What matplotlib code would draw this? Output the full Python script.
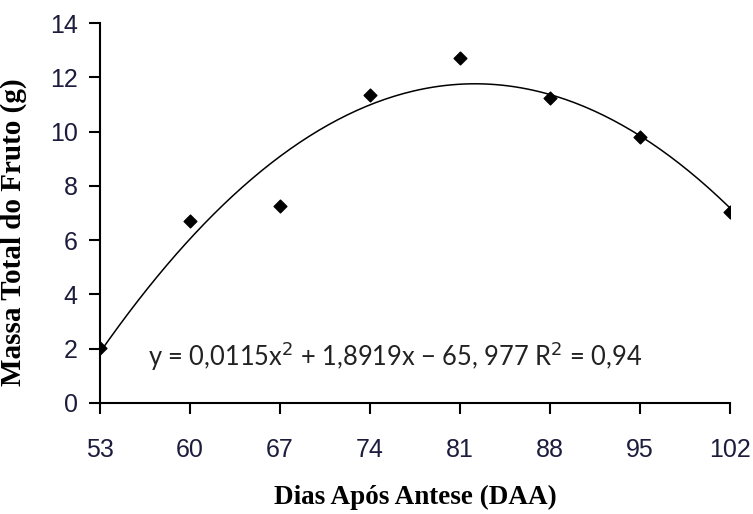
import numpy as np
import matplotlib
matplotlib.use('Agg')
import matplotlib.pyplot as plt

# Dias após antese (DAA) e massa total do fruto (g)
dias = [53, 60, 67, 74, 81, 88, 95, 102]
massa = [2.03, 6.71, 7.26, 11.35, 12.71, 11.24, 9.80, 7.04]
yticks = [0, 2, 4, 6, 8, 10, 12, 14]

equacao = 'y = 0,0115x$^2$ + 1,8919x \u2212 65, 977 R$^2$ = 0,94'

# ajuste polinomial de 2o grau (linha de tendência)
coef = np.polyfit(dias, massa, 2)
xs = np.linspace(dias[0], dias[-1], 200)
ys = np.polyval(coef, xs)

fig = plt.figure(figsize=(7.53, 5.14), dpi=100)
ax = fig.add_axes([0.1328, 0.216, 0.9695 - 0.1328, 0.955 - 0.216])

ax.plot(xs, ys, color='black', linewidth=1.1)
ax.scatter(dias, massa, marker='D', s=42, color='black', zorder=3)

ax.set_xlim(dias[0], dias[-1])
ax.set_ylim(0, 14)
ax.set_xticks(dias)
ax.set_yticks(yticks)

for lado in ['top', 'right']:
    ax.spines[lado].set_visible(False)
for lado in ['left', 'bottom']:
    ax.spines[lado].set_linewidth(1.5)
    ax.spines[lado].set_clip_on(False)

cor_ticks = '#1c1c3c'
ax.tick_params(axis='x', direction='out', length=8, width=1.5, pad=17,
               labelsize=18, labelcolor=cor_ticks)
ax.tick_params(axis='y', direction='out', length=8, width=1.5, pad=8,
               labelsize=18, labelcolor=cor_ticks)
for lbl in ax.get_xticklabels() + ax.get_yticklabels():
    lbl.set_fontfamily('Liberation Sans')

ax.set_xlabel('Dias Após Antese (DAA)', fontfamily='Liberation Serif',
              fontweight='bold', fontsize=19.5, labelpad=17)
ax.set_ylabel('Massa Total do Fruto (g)', fontfamily='Liberation Serif',
              fontweight='bold', fontsize=21)
ax.yaxis.set_label_coords(-0.116, 0.45)

ax.text(56.7, 1.73, equacao, fontfamily='Lato', fontsize=18.4,
        va='center', ha='left', color='#222222')

plt.savefig('out.png', dpi=100)
